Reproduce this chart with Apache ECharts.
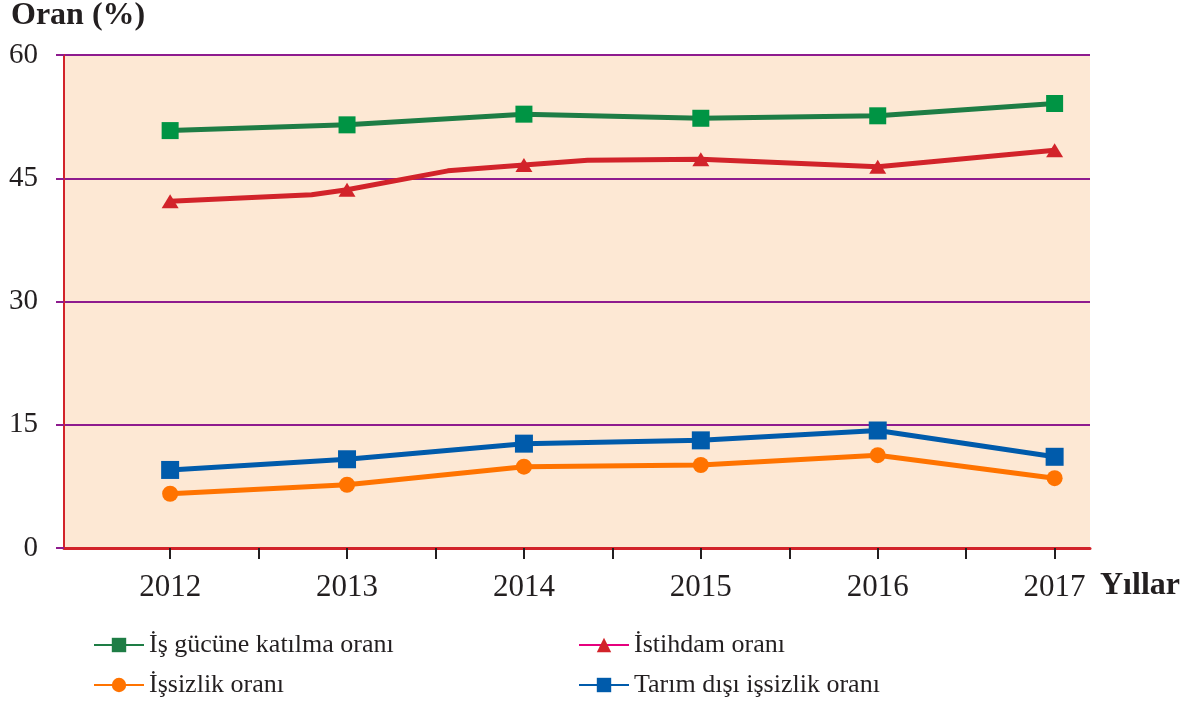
<!DOCTYPE html>
<html lang="tr">
<head>
  <meta charset="utf-8">
  <script src="https://cdn.jsdelivr.net/npm/echarts@6/dist/echarts.min.js"></script>
  <style>
    body { margin: 0; background: #fff; }
    #chart { width: 1187px; height: 706px; }
  </style>
</head>
<body>
  <div id="chart"></div>
  <script>
    // veriler
    const years = [2012, 2013, 2014, 2015, 2016, 2017];
    const seriesNames = ['İş gücüne katılma oranı', 'İstihdam oranı', 'İşsizlik oranı', 'Tarım dışı işsizlik oranı'];
    const isGucu = [50.8, 51.5, 52.8, 52.3, 52.6, 54.1];
    const istihdam = [42.2, 43.6, 46.6, 47.3, 46.4, 48.4];
    // istihdam çizgisindeki işaretsiz kırılma noktaları
    const istihdamBendX = [2012.8, 2013.57, 2014.36];
    const istihdamBendY = [43.0, 45.9, 47.2];
    const issizlik = [6.6, 7.7, 9.9, 10.1, 11.3, 8.5];
    const tarimDisi = [9.5, 10.8, 12.7, 13.1, 14.3, 11.1];

    const FONT = '"Liberation Serif", "DejaVu Serif", serif';
    const TXT = '#231f20';

    const pairs = vals => years.map((y, i) => [y, vals[i]]);

    // istihdam: yıllık noktalar + kırılmalar, x'e göre sıralı
    const istihdamData = years.map((y, i) => ({ value: [y, istihdam[i]] }))
      .concat(istihdamBendX.map((x, i) => ({ value: [x, istihdamBendY[i]], symbol: 'none' })))
      .sort((a, b) => a.value[0] - b.value[0]);

    const halfTicks = [];
    years.forEach((y, i) => { halfTicks.push(y); if (i < years.length - 1) halfTicks.push(y + 0.5); });

    const chart = echarts.init(document.getElementById('chart'));

    const legendBase = {
      itemWidth: 50, itemHeight: 18, itemGap: 0, padding: 0,
      textStyle: { fontFamily: FONT, fontSize: 26, color: TXT },
      selectedMode: false
    };

    chart.setOption({
      animation: false,
      title: [
        { text: 'Oran (%)', left: 11, top: 0, padding: 0,
          textStyle: { fontFamily: FONT, fontSize: 32, fontWeight: 'bold', color: TXT } },
        { text: 'Yıllar', left: 1100, top: 570, padding: 0,
          textStyle: { fontFamily: FONT, fontSize: 32, fontWeight: 'bold', color: TXT } }
      ],
      legend: [
        Object.assign({ data: [{ name: seriesNames[0], itemStyle: { color: '#1e7d45' } }], left: 93, top: 632 }, legendBase),
        Object.assign({ data: [{ name: seriesNames[1], lineStyle: { color: '#e6007e' } }], left: 578, top: 632 }, legendBase),
        Object.assign({ data: [seriesNames[2]], left: 93, top: 672 }, legendBase),
        Object.assign({ data: [seriesNames[3]], left: 578, top: 672 }, legendBase)
      ],
      grid: {
        left: 64, right: 97, top: 55, bottom: 158,
        show: true, backgroundColor: '#fde8d4', borderWidth: 0
      },
      xAxis: {
        type: 'value',
        min: 2011.4, max: 2017.2,
        axisLine: { show: true, lineStyle: { color: '#d2232a', width: 3 } },
        axisTick: { show: true, length: 11, lineStyle: { color: TXT, width: 2 }, customValues: halfTicks },
        axisLabel: {
          customValues: years, margin: 24,
          fontFamily: FONT, fontSize: 31, color: TXT,
          formatter: v => String(Math.round(v))
        },
        splitLine: { show: false }
      },
      yAxis: {
        type: 'value',
        min: 0, max: 60, interval: 15,
        axisLine: { show: true, lineStyle: { color: '#d2232a', width: 2 } },
        axisTick: { show: true, length: 8, lineStyle: { color: '#8e1b8e', width: 2 } },
        axisLabel: { margin: 26, fontFamily: FONT, fontSize: 29, color: TXT },
        splitLine: { show: true, lineStyle: { color: '#8e1b8e', width: 2 } }
      },
      series: [
        {
          name: seriesNames[0], type: 'line', data: pairs(isGucu),
          symbol: 'rect', symbolSize: 17,
          itemStyle: { color: '#009444' },
          lineStyle: { color: '#1e7d45', width: 5 }
        },
        {
          name: seriesNames[1], type: 'line', data: istihdamData,
          symbol: 'triangle', symbolSize: [17, 14],
          itemStyle: { color: '#d2232a' },
          lineStyle: { color: '#d2232a', width: 5 }
        },
        {
          name: seriesNames[2], type: 'line', data: pairs(issizlik),
          symbol: 'circle', symbolSize: 16,
          itemStyle: { color: '#ff7300' },
          lineStyle: { color: '#ff7300', width: 5 }
        },
        {
          name: seriesNames[3], type: 'line', data: pairs(tarimDisi),
          symbol: 'rect', symbolSize: 18,
          itemStyle: { color: '#005bab' },
          lineStyle: { color: '#005bab', width: 5 }
        }
      ]
    });
  </script>
</body>
</html>
